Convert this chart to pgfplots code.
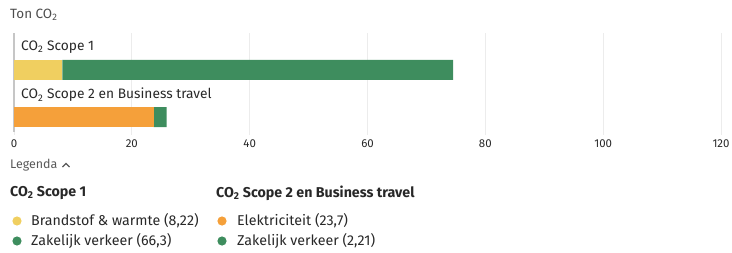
\documentclass[border=0pt]{standalone}
\usepackage{fontspec}
\setmainfont{Fira Sans}
\usepackage{pgfplots}
\pgfplotsset{compat=1.18}
\definecolor{cyel}{RGB}{240,207,96}
\definecolor{cgrn}{RGB}{62,141,94}
\definecolor{corg}{RGB}{245,160,58}
\definecolor{ctxt}{RGB}{40,40,40}
\definecolor{cgrid}{RGB}{236,236,236}
\begin{document}
\begin{tikzpicture}[x=1bp,y=1bp]
\path[use as bounding box] (0,0) rectangle (732,252);
\begin{axis}[
  at={(14bp,117bp)}, anchor=south west,
  scale only axis, width=707bp, height=102bp,
  xbar stacked, bar width=20bp,
  xmin=0, xmax=120, ymin=-0.38, ymax=1.78,
  xtick={0,20,...,120}, ytick=\empty,
  major tick length=0,
  xmajorgrids, grid style={cgrid, line width=0.8bp},
  axis line style={draw=none},
  tick label style={font=\fontsize{11.5}{13}\selectfont, text=ctxt},
  /pgf/number format/assume math mode=true,
  xticklabel style={yshift=-1bp},
  clip=false,
]
\addplot[fill=cyel, draw=none] coordinates {(8.22,1) (0,0)};
\addplot[fill=corg, draw=none] coordinates {(0,1) (23.7,0)};
\addplot[fill=cgrn, draw=none] coordinates {(66.3,1) (2.21,0)};
\draw[gray!45, line width=2bp] (axis description cs:0,1) -- (axis description cs:0,0.03);
\end{axis}
\begin{scope}[every node/.style={inner sep=0, anchor=west, text=ctxt}]
\node[text=black!70] at (10,237) {\fontsize{13.5}{15}\selectfont Ton CO\textsubscript{2}};
\node at (21,205) {\fontsize{13.8}{15}\selectfont CO\textsubscript{2} Scope 1};
\node at (21,157) {\fontsize{13.8}{15}\selectfont CO\textsubscript{2} Scope 2 en Business travel};
\node[text=black!65] at (10,87) {\fontsize{12.5}{14}\selectfont Legenda};
\draw[black!65, line width=1.2bp] (62.5,85) -- (66,88.5) -- (69.5,85);
\node at (10,59) {\fontsize{14.3}{15}\selectfont\bfseries CO\textsubscript{2} Scope 1};
\node at (216,59) {\fontsize{14.3}{15}\selectfont\bfseries CO\textsubscript{2} Scope 2 en Business travel};
\fill[cyel] (17,31) circle (4.6);
\fill[cgrn] (17,11) circle (4.6);
\fill[corg] (222,31) circle (4.6);
\fill[cgrn] (222,11) circle (4.6);
\node at (31,31) {\fontsize{14.3}{15}\selectfont Brandstof \& warmte (8,22)};
\node at (31,11) {\fontsize{14.3}{15}\selectfont Zakelijk verkeer (66,3)};
\node at (237,31) {\fontsize{14.3}{15}\selectfont Elektriciteit (23,7)};
\node at (237,11) {\fontsize{14.3}{15}\selectfont Zakelijk verkeer (2,21)};
\end{scope}
\end{tikzpicture}
\end{document}
